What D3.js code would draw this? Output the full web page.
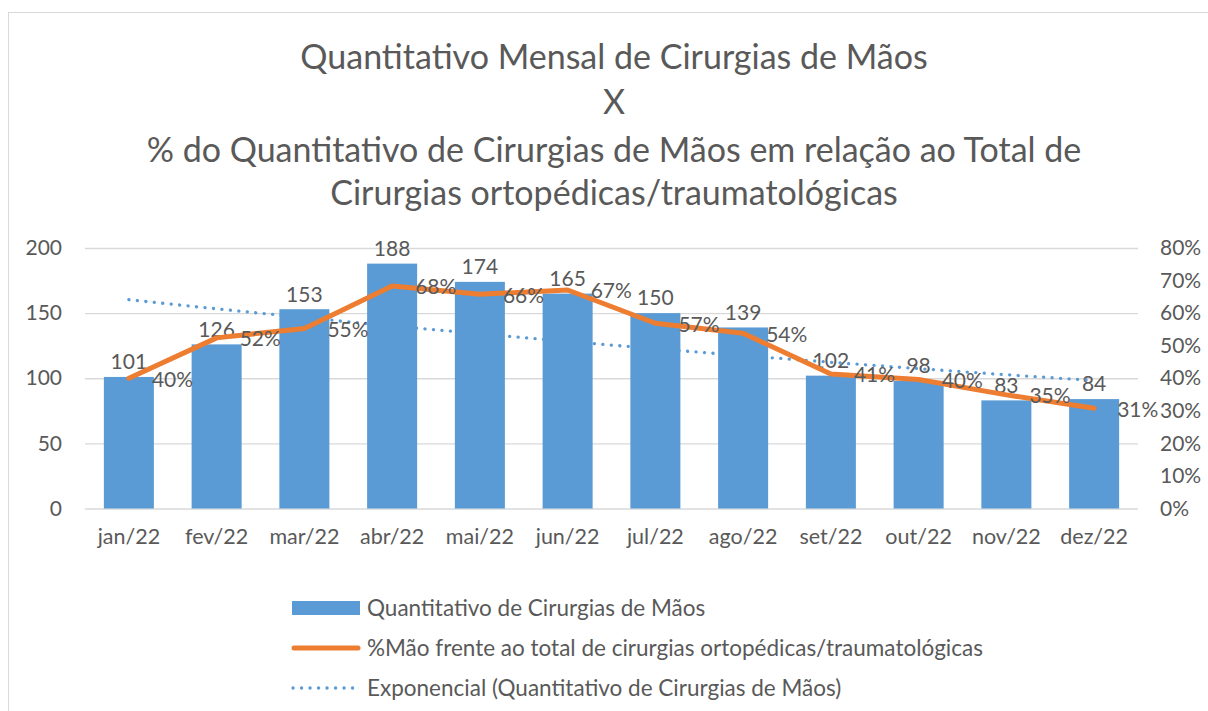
<!DOCTYPE html>
<html>
<head>
<meta charset="utf-8">
<script src="https://cdn.jsdelivr.net/npm/d3@7"></script>
<style>
	body { margin: 0; background: #fff; }
	svg text { font-family: Lato, "Open Sans", sans-serif; fill: #595959; }
</style>
</head>
<body>
<svg id="chart" width="1208" height="711"></svg>
<script>
// ================= dados =================
var months = ["jan/22", "fev/22", "mar/22", "abr/22", "mai/22", "jun/22",
	"jul/22", "ago/22", "set/22", "out/22", "nov/22", "dez/22"];
var cirurgias = [101, 126, 153, 188, 174, 165, 150, 139, 102, 98, 83, 84];
var percMao = [0.400, 0.524, 0.553, 0.683, 0.658, 0.671, 0.569, 0.538, 0.413, 0.396, 0.349, 0.308];
var tendencia = [160.3, 153.3, 146.6, 140.2, 134.1, 128.3, 122.7, 117.4, 112.3, 107.4, 102.7, 98.3];
var leftTicks = [0, 50, 100, 150, 200];
var rightTicks = [0, 0.1, 0.2, 0.3, 0.4, 0.5, 0.6, 0.7, 0.8];
var titleLines = [
	"Quantitativo Mensal de Cirurgias de Mãos",
	"X",
	"% do Quantitativo de Cirurgias de Mãos em relação ao Total de",
	"Cirurgias ortopédicas/traumatológicas"
];
var legendItems = [
	"Quantitativo de Cirurgias de Mãos",
	"%Mão frente ao total de cirurgias ortopédicas/traumatológicas",
	"Exponencial (Quantitativo de Cirurgias de Mãos)"
];

var barColor = "#5b9bd5", lineColor = "#ed7d31", gridColor = "#d9d9d9";

function drawChart() {
	const svg = d3.select("#chart");
	svg.selectAll("*").remove();

	const left = 85, right = 1138, top = 248, bottom = 508.5;

	// moldura do gráfico
	svg.append("rect")
		.attr("x", 8.5).attr("y", 12.5)
		.attr("width", 1220).attr("height", 720)
		.attr("fill", "#fff")
		.attr("stroke", gridColor);

	const x = d3.scaleBand()
		.domain(months)
		.range([left, right])
		.paddingInner(0.43)
		.paddingOuter(0.215);

	const y = d3.scaleLinear().domain([0, 200]).range([bottom, top]);
	const y2 = d3.scaleLinear().domain([0, 0.8]).range([bottom, top]);

	// título
	svg.append("g").selectAll("text")
		.data(titleLines)
		.enter().append("text")
		.attr("x", 614)
		.attr("y", (d, i) => [57, 102, 150, 193][i])
		.attr("dy", "0.35em")
		.attr("text-anchor", "middle")
		.style("font-size", "34px")
		.text(d => d);

	// grade + eixo esquerdo
	const gy = svg.append("g")
		.attr("transform", `translate(${left},0)`)
		.call(d3.axisLeft(y).tickValues(leftTicks).tickSize(-(right - left)).tickPadding(23));
	gy.select(".domain").remove();
	gy.selectAll("line").attr("stroke", gridColor).attr("stroke-width", 1.3);
	gy.selectAll("text").style("font-size", "21px").attr("fill", "#595959");

	// eixo direito (%)
	const gy2 = svg.append("g")
		.attr("transform", `translate(${right},0)`)
		.call(d3.axisRight(y2).tickValues(rightTicks).tickSize(0).tickPadding(22)
			.tickFormat(d => Math.round(d * 100) + "%"));
	gy2.select(".domain").remove();
	gy2.selectAll("text").style("font-size", "21px").attr("fill", "#595959");

	// eixo X
	const gx = svg.append("g")
		.attr("transform", `translate(0,${bottom})`)
		.call(d3.axisBottom(x).tickSize(0).tickPadding(20));
	gx.select(".domain").remove();
	gx.selectAll("text").style("font-size", "21.5px").attr("fill", "#595959");

	// barras
	svg.append("g").selectAll("rect")
		.data(cirurgias)
		.enter().append("rect")
		.attr("x", (d, i) => x(months[i]))
		.attr("y", d => y(d))
		.attr("width", x.bandwidth())
		.attr("height", d => bottom - y(d))
		.attr("fill", barColor);

	// valores das barras
	svg.append("g").selectAll("text")
		.data(cirurgias)
		.enter().append("text")
		.attr("x", (d, i) => x(months[i]) + x.bandwidth() / 2)
		.attr("y", d => y(d) - 15)
		.attr("dy", "0.35em")
		.attr("text-anchor", "middle")
		.style("font-size", "21px")
		.text(d => d);

	const cx = i => x(months[i]) + x.bandwidth() / 2;

	// linha de tendência exponencial
	svg.append("path")
		.datum(tendencia)
		.attr("d", d3.line().x((d, i) => cx(i)).y(d => y(d)).curve(d3.curveMonotoneX))
		.attr("fill", "none")
		.attr("stroke", barColor)
		.attr("stroke-width", 3.3)
		.attr("stroke-linecap", "round")
		.attr("stroke-dasharray", "0.1,8.4");

	// linha %
	svg.append("path")
		.datum(percMao)
		.attr("d", d3.line().x((d, i) => cx(i)).y(d => y2(d)))
		.attr("fill", "none")
		.attr("stroke", lineColor)
		.attr("stroke-width", 5)
		.attr("stroke-linejoin", "round")
		.attr("stroke-linecap", "round");

	// rótulos %
	svg.append("g").selectAll("text")
		.data(percMao)
		.enter().append("text")
		.attr("x", (d, i) => cx(i) + 23)
		.attr("y", d => y2(d) + 1)
		.attr("dy", "0.35em")
		.style("font-size", "21px")
		.text(d => Math.round(d * 100) + "%");

	// legenda
	const lg = svg.append("g").attr("transform", "translate(292,608)");
	const rowH = 40;

	lg.append("rect")
		.attr("x", 0).attr("y", -7)
		.attr("width", 68).attr("height", 14)
		.attr("fill", barColor);

	lg.append("line")
		.attr("x1", 2).attr("x2", 66)
		.attr("y1", rowH).attr("y2", rowH)
		.attr("stroke", lineColor)
		.attr("stroke-width", 5)
		.attr("stroke-linecap", "round");

	lg.append("line")
		.attr("x1", 1).attr("x2", 62)
		.attr("y1", rowH * 2).attr("y2", rowH * 2)
		.attr("stroke", barColor)
		.attr("stroke-width", 3.3)
		.attr("stroke-linecap", "round")
		.attr("stroke-dasharray", "0.1,8.4");

	lg.selectAll(".leg")
		.data(legendItems)
		.enter().append("text")
		.attr("class", "leg")
		.attr("x", 75)
		.attr("y", (d, i) => i * rowH)
		.attr("dy", "0.35em")
		.style("font-size", "22.5px")
		.text(d => d);
}

drawChart();
</script>
</body>
</html>
